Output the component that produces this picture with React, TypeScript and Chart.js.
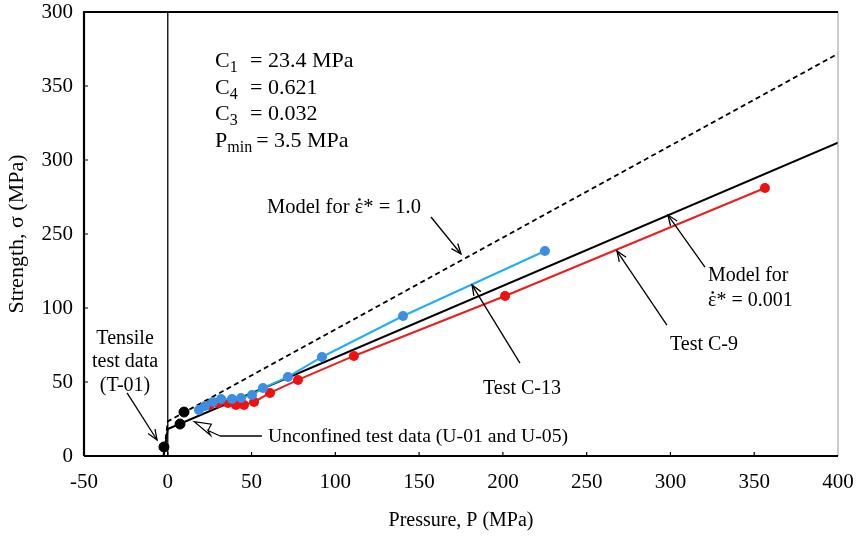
import React, { useEffect, useRef } from 'react';
import { Chart, registerables } from 'chart.js';
Chart.register(...registerables);

// ---- axis settings ----
const xMin = -50;
const xMax = 400;
const xStep = 50;
const yMin = 0;
const yMax = 300;
const yStep = 50;
const yTickLabels = ['0', '50', '100', '250', '300', '350', '300'];

// ---- model curves ----
const modelFastP = [-2.5, 0, 400];
const modelFastS = [0, 23.4, 271.8];
const modelSlowP = [-2.5, 0, 400];
const modelSlowS = [0, 18.2, 211.7];

// ---- test data ----
const c13P = [18.6, 22.2, 27.0, 31.8, 38.3, 43.7, 50.3, 56.8, 71.7, 92.0, 140.4, 225.1];
const c13S = [31.1, 33.8, 36.5, 38.5, 38.5, 39.2, 41.2, 45.9, 53.4, 66.9, 94.6, 138.5];
const c9P = [25.2, 30.0, 35.9, 40.7, 45.5, 51.5, 61.0, 77.7, 111.1, 201.3, 356.4];
const c9S = [34.5, 35.8, 35.8, 34.5, 34.5, 36.5, 42.6, 51.4, 67.6, 108.1, 181.1];
const unconfinedP = [7.3, 9.7];
const unconfinedS = [21.6, 29.7];
const tensileP = [-2.3];
const tensileS = [6.1];

// ---- text ----
const paramMain = ['C', 'C', 'C', 'P'];
const paramSub = ['1', '4', '3', 'min'];
const paramRest = ['= 23.4 MPa', '= 0.621', '= 0.032', '= 3.5 MPa'];

const SERIF = "'Liberation Serif', 'DejaVu Serif', serif";

const pts = (px: number[], py: number[]) => px.map((v, i) => ({ x: v, y: py[i] }));

function arrow(ctx: CanvasRenderingContext2D, x1: number, y1: number, x2: number, y2: number) {
  ctx.beginPath();
  ctx.moveTo(x1, y1);
  ctx.lineTo(x2, y2);
  ctx.stroke();
  const ang = Math.atan2(y2 - y1, x2 - x1);
  const L = 11;
  const w = 0.38;
  ctx.beginPath();
  ctx.moveTo(x2 - L * Math.cos(ang - w), y2 - L * Math.sin(ang - w));
  ctx.lineTo(x2, y2);
  ctx.lineTo(x2 - L * Math.cos(ang + w), y2 - L * Math.sin(ang + w));
  ctx.stroke();
}

// draws "pre" + ε with a dot above + "post", starting at x (left), middle baseline
function epsText(ctx: CanvasRenderingContext2D, pre: string, post: string, x: number, y: number) {
  ctx.textAlign = 'left';
  ctx.fillText(pre, x, y);
  const w1 = ctx.measureText(pre).width;
  ctx.fillText('\u03B5', x + w1, y);
  const we = ctx.measureText('\u03B5').width;
  ctx.beginPath();
  ctx.arc(x + w1 + we / 2 + 0.5, y - 8.5, 1.3, 0, Math.PI * 2);
  ctx.fill();
  ctx.fillText(post, x + w1 + we, y);
}

const annotPlugin = {
  id: 'annot',
  beforeDatasetsDraw(chart: any) {
    const { ctx, chartArea: a, scales } = chart;
    const x0 = scales.x.getPixelForValue(0);
    ctx.save();
    ctx.strokeStyle = '#000';
    ctx.lineWidth = 1.3;
    ctx.beginPath();
    ctx.moveTo(x0, a.top);
    ctx.lineTo(x0, a.bottom);
    ctx.stroke();
    ctx.restore();
  },
  afterDatasetsDraw(chart: any) {
    const { ctx, chartArea: a, scales } = chart;
    const X = (v: number) => scales.x.getPixelForValue(v);
    const Y = (v: number) => scales.y.getPixelForValue(v);
    ctx.save();
    // frame
    ctx.strokeStyle = '#9a9a9a';
    ctx.lineWidth = 1;
    ctx.beginPath();
    ctx.moveTo(a.right, a.top);
    ctx.lineTo(a.right, a.bottom);
    ctx.stroke();
    ctx.strokeStyle = '#000';
    ctx.lineWidth = 2.2;
    ctx.beginPath();
    ctx.moveTo(a.left, a.bottom);
    ctx.lineTo(a.left, a.top);
    ctx.lineTo(a.right, a.top);
    ctx.moveTo(a.left, a.bottom);
    ctx.lineTo(a.right, a.bottom);
    ctx.stroke();
    // inner tick marks
    ctx.lineWidth = 1.2;
    ctx.beginPath();
    for (let v = xMin + xStep; v < xMax; v += xStep) {
      ctx.moveTo(X(v), a.bottom);
      ctx.lineTo(X(v), a.bottom - 4);
    }
    for (let v = yMin + yStep; v < yMax; v += yStep) {
      ctx.moveTo(a.left, Y(v));
      ctx.lineTo(a.left + 4, Y(v));
    }
    ctx.stroke();

    // parameter block
    ctx.fillStyle = '#000';
    ctx.textBaseline = 'alphabetic';
    ctx.textAlign = 'left';
    const bx = X(28.2);
    const restX = X(49.1);
    const baselines = [263.1, 244.9, 227.0, 209.0];
    for (let i = 0; i < 4; i++) {
      const by = Y(baselines[i]);
      ctx.font = `22px ${SERIF}`;
      ctx.fillText(paramMain[i], bx, by);
      const mw = ctx.measureText(paramMain[i]).width;
      ctx.font = `16px ${SERIF}`;
      ctx.fillText(paramSub[i], bx + mw, by + 5);
      const sw = ctx.measureText(paramSub[i]).width;
      ctx.font = `22px ${SERIF}`;
      ctx.fillText(paramRest[i], Math.max(restX, bx + mw + sw + 4), by);
    }

    // labels
    ctx.font = `20.5px ${SERIF}`;
    ctx.textBaseline = 'middle';
    ctx.textAlign = 'left';
    epsText(ctx, 'Model for ', '* = 1.0', X(59.2), Y(167.6));
    ctx.font = `20px ${SERIF}`;
    ctx.fillText('Test C-13', X(188.1), Y(45.3));
    ctx.fillText('Model for', X(322.4), Y(121.6));
    epsText(ctx, '', '* = 0.001', X(322.4), Y(104.7));
    ctx.textAlign = 'left';
    ctx.fillText('Test C-9', X(299.7), Y(75.0));
    ctx.font = `19.7px ${SERIF}`;
    ctx.fillText('Unconfined test data (U-01 and U-05)', X(59.8), Y(12.8));
    ctx.font = `20px ${SERIF}`;
    ctx.textAlign = 'center';
    ctx.fillText('Tensile', X(-25.5), Y(79.1));
    ctx.fillText('test data', X(-25.5), Y(63.5));
    ctx.fillText('(T-01)', X(-25.5), Y(47.3));

    // arrows
    ctx.strokeStyle = '#000';
    ctx.lineWidth = 1.3;
    arrow(ctx, X(157.1), Y(161.5), X(175.0), Y(136.5));
    arrow(ctx, X(210.2), Y(62.8), X(181.6), Y(115.5));
    arrow(ctx, X(320.6), Y(127.7), X(298.5), Y(162.8));
    arrow(ctx, X(297.9), Y(88.5), X(268.1), Y(138.5));
    arrow(ctx, X(-24.3), Y(42.6), X(-6.4), Y(10.8));
    // unconfined connector with hollow arrow
    ctx.lineWidth = 1.6;
    ctx.beginPath();
    ctx.moveTo(X(56.2), Y(13.5));
    ctx.lineTo(X(31.2), Y(13.5));
    ctx.stroke();
    ctx.lineWidth = 1.2;
    const tx = X(15.8), ty = Y(23.2);
    ctx.beginPath();
    ctx.moveTo(X(31.2), Y(13.5));
    ctx.lineTo(X(24.0), Y(17.2));
    ctx.lineTo(X(25.5), Y(14.0));
    ctx.lineTo(tx, ty);
    ctx.lineTo(X(26.0), Y(21.5));
    ctx.lineTo(X(24.0), Y(17.2));
    ctx.stroke();
    ctx.restore();
  },
};

export default function App() {
  const ref = useRef<HTMLCanvasElement>(null);
  useEffect(() => {
    document.body.style.margin = '0';
    const canvas = ref.current!;
    const chart = new Chart(canvas, {
      type: 'scatter',
      data: {
        datasets: [
          {
            label: 'Tensile',
            data: pts(tensileP, tensileS),
            showLine: false,
            pointRadius: 5,
            pointBackgroundColor: '#000',
            pointBorderColor: '#000',
          },
          {
            label: 'Unconfined',
            data: pts(unconfinedP, unconfinedS),
            showLine: false,
            pointRadius: 5,
            pointBackgroundColor: '#000',
            pointBorderColor: '#000',
          },
          {
            label: 'Test C-13',
            data: pts(c13P, c13S),
            showLine: true,
            borderColor: '#1eb0f2',
            borderWidth: 2,
            pointRadius: 5,
            pointBackgroundColor: '#3b8ee4',
            pointBorderColor: '#3b8ee4',
            pointBorderWidth: 0,
          },
          {
            label: 'Test C-9',
            data: pts(c9P, c9S),
            showLine: true,
            borderColor: '#ee1c1c',
            borderWidth: 2,
            pointRadius: 5,
            pointBackgroundColor: '#f01010',
            pointBorderColor: '#f01010',
            pointBorderWidth: 0,
          },
          {
            label: 'Model 0.001',
            data: pts(modelSlowP, modelSlowS),
            showLine: true,
            borderColor: '#000',
            borderWidth: 2,
            pointRadius: 0,
          },
          {
            label: 'Model 1.0',
            data: pts(modelFastP, modelFastS),
            showLine: true,
            borderColor: '#000',
            borderWidth: 1.8,
            borderDash: [5, 3.5],
            pointRadius: 0,
          },
        ],
      },
      options: {
        responsive: false,
        animation: false,
        layout: { padding: { top: 12, right: 18, left: 0, bottom: 0 } },
        plugins: { legend: { display: false }, tooltip: { enabled: false } },
        scales: {
          x: {
            type: 'linear',
            min: xMin,
            max: xMax,
            afterFit: (s: any) => {
              s.height = 91;
              s.paddingLeft = 0;
              s.paddingRight = 0;
            },
            ticks: {
              stepSize: xStep,
              color: '#000',
              font: { family: SERIF, size: 21 },
              padding: 14,
              maxRotation: 0,
            },
            grid: { display: false, drawTicks: false },
            border: { display: false },
            title: {
              display: true,
              text: 'Pressure, P (MPa)',
              color: '#000',
              font: { family: SERIF, size: 20 },
              padding: { top: 0, bottom: 14 },
            },
          },
          y: {
            type: 'linear',
            min: yMin,
            max: yMax,
            afterFit: (s: any) => {
              s.width = 84;
              s.paddingTop = 0;
              s.paddingBottom = 0;
            },
            ticks: {
              stepSize: yStep,
              color: '#000',
              font: { family: SERIF, size: 21 },
              padding: 11,
              callback: (v: any) => yTickLabels[Math.round((Number(v) - yMin) / yStep)] ?? '',
            },
            grid: { display: false, drawTicks: false },
            border: { display: false },
            title: {
              display: true,
              text: 'Strength, \u03C3 (MPa)',
              color: '#000',
              font: { family: SERIF, size: 22 },
              padding: { top: 4, bottom: 0 },
            },
          },
        },
      },
      plugins: [annotPlugin],
    });
    return () => chart.destroy();
  }, []);
  return (
    <div style={{ width: 856, height: 547 }}>
      <canvas ref={ref} width={856} height={547} style={{ display: 'block' }} />
    </div>
  );
}
